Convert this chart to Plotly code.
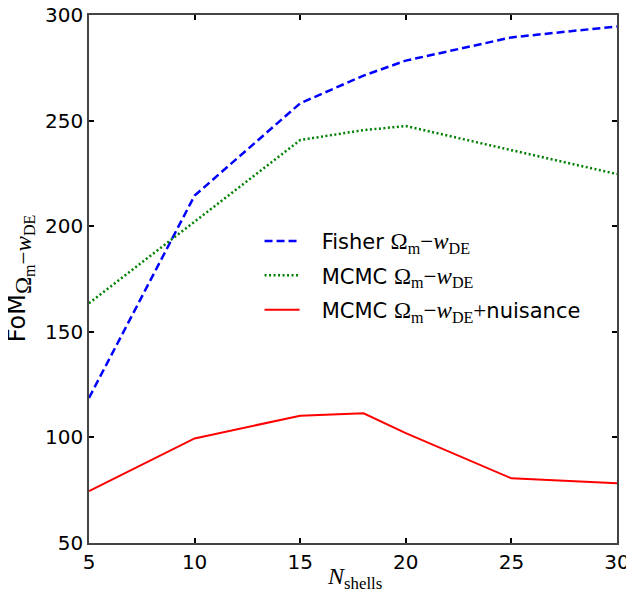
import plotly.graph_objects as go

n_shells = [5, 10, 15, 18, 20, 25, 30]
fisher = [118.7, 214.5, 258.2, 271.3, 278.4, 289.4, 294.6]
mcmc = [163.5, 202, 240.8, 245.5, 247.4, 236, 224.7]
mcmc_nuis = [74.6, 99.5, 110.3, 111.4, 102, 80.6, 78.3]

x_ticks = [5, 10, 15, 20, 25, 30]
y_ticks = [50, 100, 150, 200, 250, 300]

SERIF = "Liberation Serif"
PAD = "<span style='font-size:18px'>\u00a0\u00a0\u00a0</span>"


def math(size):
    return (f"<span style='font-family:{SERIF};font-size:{size}px'>"
            "Ω<sub>m</sub>−<i>w</i><sub>DE</sub></span>")


fig = go.Figure()
fig.add_trace(go.Scatter(x=n_shells, y=fisher, mode="lines", legendgroup="a",
                         line=dict(color="#0000ff", width=2.5, dash="8px,4px"),
                         name=PAD + "Fisher " + math(23)))
fig.add_trace(go.Scatter(x=n_shells, y=mcmc, mode="lines", legendgroup="b",
                         line=dict(color="#008000", width=2.5, dash="2px,2.5px"),
                         name=PAD + "MCMC " + math(23)))
fig.add_trace(go.Scatter(x=n_shells, y=mcmc_nuis, mode="lines", legendgroup="c",
                         line=dict(color="#ff0000", width=2),
                         name=PAD + "MCMC " + math(23)
                         + f"<span style='font-family:{SERIF};font-size:23px'>+</span>nuisance"))

axis_common = dict(
    showline=True, linecolor="#444444", linewidth=1.5, mirror="ticks",
    ticks="inside", ticklen=5, tickwidth=1.5, tickcolor="black",
    showgrid=False, zeroline=False, automargin=False,
    ticklabeloverflow="allow", ticklabelstandoff=0,
    tickfont=dict(family="DejaVu Sans", size=20, color="black"),
)

fig.update_xaxes(range=[5, 30], tickvals=x_ticks, ticktext=[str(v) for v in x_ticks],
                 **axis_common)
fig.update_yaxes(range=[50, 300], tickvals=y_ticks, ticktext=[str(v) for v in y_ticks],
                 **axis_common)

fig.add_annotation(text="<i>N</i><sub>shells</sub>", xref="paper", yref="paper",
                   x=0.502, y=-0.066, xanchor="center", yanchor="middle", showarrow=False,
                   font=dict(family=SERIF, size=24, color="black"))
fig.add_annotation(text="FoM<sub>" + math(23) + "</sub>", xref="paper", yref="paper",
                   x=-0.128, y=0.502, xanchor="center", yanchor="middle", showarrow=False,
                   textangle=-90, font=dict(family="DejaVu Sans", size=24, color="black"))

# page body has an 8px margin, so the figure is sized/margined to land the
# plot area where the reference has it
fig.update_layout(
    width=626, height=587,
    margin=dict(l=81, r=17, t=7, b=52),
    plot_bgcolor="white", paper_bgcolor="white",
    legend=dict(x=0.323, y=0.61, xanchor="left", yanchor="top", tracegroupgap=4,
                itemwidth=35,
                bgcolor="rgba(0,0,0,0)", font=dict(family="DejaVu Sans", size=21, color="black")),
)

fig.write_html("out.html")
